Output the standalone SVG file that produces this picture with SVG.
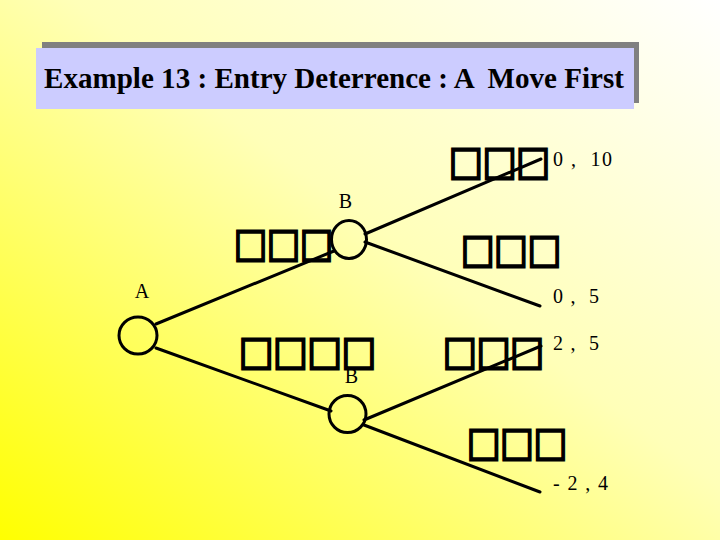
<svg xmlns="http://www.w3.org/2000/svg" width="720" height="540" viewBox="0 0 720 540">
<defs>
<linearGradient id="bg" x1="0" y1="1" x2="1" y2="0">
<stop offset="0" stop-color="#ffff00"/>
<stop offset="0.55" stop-color="#ffffb8"/>
<stop offset="1" stop-color="#ffffff"/>
</linearGradient>
<style>
text{white-space:pre}
.lbl{font-family:"Liberation Serif","Times New Roman",serif;font-size:20px;fill:#000}
.tofu{font-family:"Noto Sans CJK SC","DejaVu Sans",sans-serif;font-size:36px;fill:#000;stroke:#000;stroke-width:2.8}
.edge{stroke:#000;stroke-width:3;fill:none;stroke-linecap:round}
.node{fill:none;stroke:#000;stroke-width:3}
</style>
</defs>
<rect x="0" y="0" width="720" height="540" fill="url(#bg)"/>
<g id="title">
<rect x="42" y="42" width="597" height="61" fill="#808080"/>
<rect x="36" y="48" width="598" height="61" fill="#ccccff"/>
<text x="44" y="88" xml:space="preserve" font-family="Liberation Serif,'Times New Roman',serif" font-weight="bold" font-size="30" textLength="580" lengthAdjust="spacingAndGlyphs">Example 13 : Entry Deterrence : A  Move First</text>
</g>
<g id="connectors">
<line class="edge" x1="156" y1="324" x2="334" y2="251"/>
<line class="edge" x1="156" y1="348" x2="331" y2="411"/>
<line class="edge" x1="365" y1="234" x2="541" y2="159"/>
<line class="edge" x1="365" y1="242" x2="540" y2="306"/>
<line class="edge" x1="364" y1="420" x2="541" y2="346"/>
<line class="edge" x1="364" y1="425" x2="540" y2="492"/>
</g>
<g id="nodeA">
<ellipse class="node" cx="138" cy="335.5" rx="19" ry="18.5"/>
<text class="lbl" x="142" y="298" text-anchor="middle">A</text>
</g>
<g id="nodeB1">
<ellipse class="node" cx="349" cy="239.5" rx="17.5" ry="19"/>
<text class="lbl" x="345.5" y="208" text-anchor="middle">B</text>
</g>
<g id="nodeB2">
<ellipse class="node" cx="347.5" cy="414" rx="18.5" ry="18.5"/>
<text class="lbl" x="351.5" y="383" text-anchor="middle">B</text>
</g>
<g id="payoffs">
<text class="lbl" x="553" y="166" xml:space="preserve" textLength="59" lengthAdjust="spacing">0 ,  10</text>
<text class="lbl" x="553" y="303" xml:space="preserve" textLength="46" lengthAdjust="spacing">0 ,  5</text>
<text class="lbl" x="553" y="350" xml:space="preserve" textLength="46" lengthAdjust="spacing">2 ,  5</text>
<text class="lbl" x="553" y="490" xml:space="preserve" textLength="55" lengthAdjust="spacing">- 2 , 4</text>
</g>
<g id="actions">
<text class="tofu" x="449" y="178" textLength="101" lengthAdjust="spacingAndGlyphs">□□□</text>
<text class="tofu" x="234" y="260" textLength="99" lengthAdjust="spacingAndGlyphs">□□□</text>
<text class="tofu" x="461" y="266" textLength="100" lengthAdjust="spacingAndGlyphs">□□□</text>
<text class="tofu" x="239" y="368" textLength="137" lengthAdjust="spacingAndGlyphs">□□□□</text>
<text class="tofu" x="443" y="368" textLength="101" lengthAdjust="spacingAndGlyphs">□□□</text>
<text class="tofu" x="467" y="459" textLength="100" lengthAdjust="spacingAndGlyphs">□□□</text>
</g>
</svg>
